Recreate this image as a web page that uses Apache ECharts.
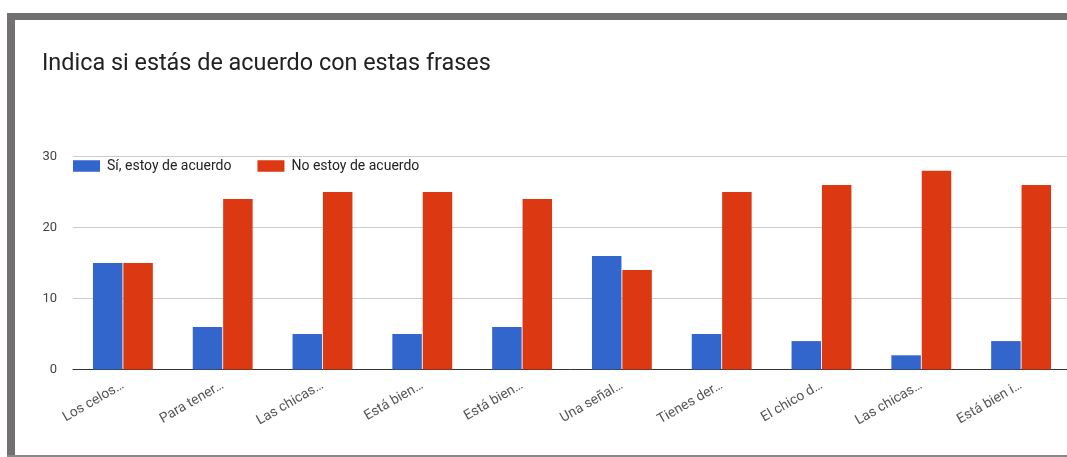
<!DOCTYPE html>
<html>
<head>
<meta charset="utf-8">
<script src="https://cdn.jsdelivr.net/npm/echarts@6/dist/echarts.min.js"></script>
<style>
html,body{margin:0;padding:0;background:#fff;}
#c{width:1067px;height:457px;}
</style>
</head>
<body>
<div id="c"></div>
<script>
const categories = ["Los celos…","Para tener…","Las chicas…","Está bien…","Está bien…","Una señal…","Tienes der…","El chico d…","Las chicas…","Está bien i…"];
const seriesNames = ["Sí, estoy de acuerdo","No estoy de acuerdo"];
const siValues = [15,6,5,5,6,16,5,4,2,4];
const noValues = [15,24,25,25,24,14,25,26,28,26];
const yTicks = [0,10,20,30];

const chart = echarts.init(document.getElementById('c'), null, {renderer:'canvas'});
chart.setOption({
  animation:false,
  backgroundColor:'#fff',
  title:{text:'Indica si estás de acuerdo con estas frases', left:42, top:53, padding:0,
    textStyle:{fontFamily:'Roboto', fontSize:23.4, fontWeight:'normal', color:'#222'}},
  legend:{left:73, top:159, padding:0, itemWidth:27, itemHeight:11.5, itemGap:26, icon:'rect',
    textStyle:{fontFamily:'Roboto', fontSize:14, color:'#222', padding:[0,0,0,2]},
    data:seriesNames},
  grid:{left:73, width:998, top:156.5, bottom:87.5, containLabel:false, outerBoundsMode:'none'},
  xAxis:{type:'category', data:categories,
    axisLine:{lineStyle:{color:'#333', width:1}},
    axisTick:{show:false},
    axisLabel:{rotate:30, margin:15, interval:0, fontFamily:'Roboto', fontSize:13.8, color:'#555'}},
  yAxis:{type:'value', min:yTicks[0], max:yTicks[yTicks.length-1], interval:10,
    axisLine:{show:false}, axisTick:{show:false},
    splitLine:{lineStyle:{color:'#ccc', width:1}},
    axisLabel:{margin:16, fontFamily:'Roboto', fontSize:13, color:'#444'}},
  series:[
    {name:seriesNames[0], type:'bar', data:siValues, barWidth:29.5, barGap:'3%',
      itemStyle:{color:'#3366cc'}},
    {name:seriesNames[1], type:'bar', data:noValues, barWidth:29.5, barGap:'3%',
      itemStyle:{color:'#dc3912'}}
  ],
  graphic:[
    {type:'rect', shape:{x:7, y:13, width:1060, height:7}, style:{fill:'#737070'}, z:100},
    {type:'rect', shape:{x:7, y:13, width:8, height:444}, style:{fill:'#737070'}, z:100},
    {type:'rect', shape:{x:7, y:455, width:1060, height:2}, style:{fill:'#8a8888'}, z:100}
  ]
});
</script>
</body>
</html>
